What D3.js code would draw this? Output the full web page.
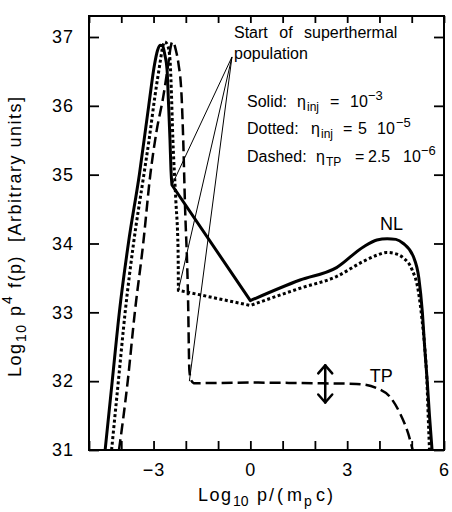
<html>
<head>
<meta charset="utf-8">
<script src="https://d3js.org/d3.v7.min.js"></script>
<style>
body { margin: 0; background: #fff; }
svg { background: #fff; }
text { font-family: "Liberation Sans", Arial, sans-serif; fill: #000; }
</style>
</head>
<body>
<script>
// log10 p/(mp c) vs log10 p^4 f(p)
var solidX  = [-4.50, -4.28, -4.06, -3.78, -3.44, -3.15, -2.97, -2.88, -2.80, -2.72, -2.65, -2.58, -2.54, -2.49, -2.46, -2.43,
               0, 1.54, 2.67, 3.50, 3.92, 4.24, 4.51, 4.74, 5.05, 5.22, 5.33, 5.40, 5.48, 5.55, 5.63];
var solidY  = [31.0, 32.0, 33.0, 34.0, 35.0, 36.0, 36.60, 36.80, 36.88, 36.87, 36.74, 36.52, 36.08, 35.50, 35.07, 34.85,
               33.17, 33.47, 33.65, 33.95, 34.05, 34.07, 34.06, 34.00, 33.81, 33.50, 33.00, 32.50, 32.00, 31.50, 31.0];

var dottedX = [-4.30, -4.09, -3.88, -3.62, -3.30, -3.14, -2.96, -2.80, -2.72, -2.65, -2.55, -2.49, -2.46, -2.40, -2.31, -2.24, -2.23,
               0, 1.54, 2.67, 3.50, 3.92, 4.22, 4.51, 4.74, 5.01, 5.20, 5.32, 5.41, 5.47, 5.51, 5.55];
var dottedY = [31.0, 32.0, 33.0, 34.0, 35.0, 35.50, 36.13, 36.62, 36.85, 36.93, 36.86, 36.67, 36.37, 35.50, 34.63, 33.91, 33.32,
               33.10, 33.35, 33.52, 33.74, 33.83, 33.87, 33.85, 33.79, 33.62, 33.32, 32.89, 32.45, 32.02, 31.50, 31.0];

var dashedX = [-4.07, -3.80, -3.58, -3.32, -3.10, -2.90, -2.70, -2.54, -2.47, -2.42, -2.36, -2.31, -2.23, -2.13, -2.08, -2.03, -1.93, -1.89, -1.84, -1.75,
               0, 2.0, 3.29, 3.91, 4.33, 4.64, 4.89, 5.03];
var dashedY = [31.0, 32.0, 33.0, 34.0, 35.0, 35.65, 36.13, 36.62, 36.85, 36.93, 36.90, 36.81, 36.62, 36.13, 35.50, 34.63, 33.18, 32.16, 32.02, 31.97,
               31.98, 31.97, 31.96, 31.90, 31.77, 31.53, 31.24, 31.0];

// straight (power-law) stretch of each curve, as [from, to] point indices
var solidStraight = [15, 16];
var dottedStraight = [16, 17];
var dashedStraight = [19, 20];

// where the superthermal population starts on each curve
var startX = [-2.43, -2.23, -1.89];
var startY = [34.85, 33.32, 32.00];

var xTicks = d3.range(-5, 7);
var xTickLabels = [-3, 0, 3, 6];
var yTicks = d3.range(31, 38);

var width = 452, height = 512;
var pL = 89, pR = 444, pT = 16, pB = 450;

var svg = d3.select('body').append('svg')
  .attr('width', width)
  .attr('height', height);

var x = d3.scaleLinear().domain([-5, 6]).range([pL, pR]);
var y = d3.scaleLinear().domain([31, 37.305]).range([pB, pT]);

function zip(a, b) { return a.map(function (d, i) { return [d, b[i]]; }); }

svg.append('clipPath').attr('id', 'frame')
  .append('rect')
  .attr('x', pL).attr('y', pT)
  .attr('width', pR - pL).attr('height', pB - pT);

// axes (ticks pointing inward)
function styleAxis(g) {
  g.select('.domain').remove();
  g.selectAll('.tick line').attr('stroke', '#000').attr('stroke-width', 1.8);
  g.selectAll('.tick text').attr('font-size', 18).attr('fill', '#000')
    .attr('font-family', '"Liberation Sans", Arial, sans-serif')
    .attr('letter-spacing', 1);
}

svg.append('g')
  .attr('transform', 'translate(0,' + pB + ')')
  .call(d3.axisBottom(x).tickValues(xTicks).tickSize(-9).tickSizeOuter(0).tickPadding(13)
    .tickFormat(function (d) { return xTickLabels.indexOf(d) >= 0 ? d3.format('')(d) : ''; }))
  .call(styleAxis);

svg.append('g')
  .attr('transform', 'translate(0,' + pT + ')')
  .call(d3.axisTop(x).tickValues(xTicks).tickSize(-7).tickSizeOuter(0).tickFormat(''))
  .call(styleAxis);

svg.append('g')
  .attr('transform', 'translate(' + pL + ',0)')
  .call(d3.axisLeft(y).tickValues(yTicks).tickSize(-10).tickSizeOuter(0).tickPadding(15).tickFormat(d3.format('d')))
  .call(styleAxis);

svg.append('g')
  .attr('transform', 'translate(' + pR + ',0)')
  .call(d3.axisRight(y).tickValues(yTicks).tickSize(-10).tickSizeOuter(0).tickFormat(''))
  .call(styleAxis);

svg.append('rect')
  .attr('x', pL).attr('y', pT)
  .attr('width', pR - pL).attr('height', pB - pT)
  .attr('fill', 'none').attr('stroke', '#000').attr('stroke-width', 2);

// curves: smooth pieces joined by a straight power-law stretch, one subpath
var smooth = d3.line().curve(d3.curveMonotoneX)
  .x(function (d) { return x(d[0]); })
  .y(function (d) { return y(d[1]); });
var straight = d3.line()
  .x(function (d) { return x(d[0]); })
  .y(function (d) { return y(d[1]); });

function curvePath(xs, ys, cut) {
  var pts = zip(xs, ys);
  var a = smooth(pts.slice(0, cut[0] + 1));
  var b = straight(pts.slice(cut[0], cut[1] + 1)).replace(/^M/, 'L');
  var c = smooth(pts.slice(cut[1])).replace(/^M/, 'L');
  return a + b + c;
}

var curves = svg.append('g').attr('clip-path', 'url(#frame)')
  .attr('fill', 'none').attr('stroke', '#000');

curves.append('path')
  .attr('d', curvePath(solidX, solidY, solidStraight))
  .attr('stroke-width', 3)
  .attr('stroke-linejoin', 'round');

curves.append('path')
  .attr('d', curvePath(dottedX, dottedY, dottedStraight))
  .attr('stroke-width', 3)
  .attr('stroke-dasharray', '3,2.5');

curves.append('path')
  .attr('d', curvePath(dashedX, dashedY, dashedStraight))
  .attr('stroke-width', 2.5)
  .attr('stroke-dasharray', '11,5');

// annotation lines
var anchor = [-0.57, 36.71];
svg.append('g').selectAll('line')
  .data(zip(startX, startY))
  .enter().append('line')
  .attr('x1', x(anchor[0])).attr('y1', y(anchor[1]))
  .attr('x2', function (d) { return x(d[0]); })
  .attr('y2', function (d) { return y(d[1]); })
  .attr('stroke', '#000').attr('stroke-width', 1);

svg.append('text').attr('x', 234).attr('y', 38).attr('font-size', 16)
  .attr('word-spacing', 7)
  .text('Start of superthermal');
svg.append('text').attr('x', 234).attr('y', 59).attr('font-size', 16)
  .text('population');

// legend text
function legendLine(yb, parts) {
  var t = svg.append('text').attr('y', yb).attr('font-size', 16);
  parts.forEach(function (p) {
    var s = t.append('tspan').attr('x', p[0]).attr('y', yb + (p[2] || 0)).text(p[1]);
    if (p[3]) s.attr('font-size', p[3]);
  });
}
legendLine(107, [[247, 'Solid:'], [297, 'η'], [307, 'inj', 4, 12], [330, '='], [350, '10'], [368, '−3', -7, 13]]);
legendLine(134, [[247, 'Dotted:'], [311, 'η'], [321, 'inj', 4, 12], [343, '='], [358, '5'], [377, '10'], [396, '−5', -7, 13]]);
legendLine(162, [[247, 'Dashed:'], [316, 'η'], [326, 'TP', 4, 12], [355, '='], [368, '2.5'], [403, '10'], [421, '−6', -7, 13]]);

svg.append('text').attr('x', x(4.02)).attr('y', y(34.2)).attr('font-size', 18).text('NL');
svg.append('text').attr('x', x(3.70)).attr('y', y(31.99)).attr('font-size', 18).text('TP');

// double arrow
var ax = x(2.32), ay1 = y(32.23), ay2 = y(31.69);
var arrow = svg.append('g').attr('stroke', '#000').attr('stroke-width', 2.5).attr('fill', 'none')
  .attr('stroke-linecap', 'round').attr('stroke-linejoin', 'round');
arrow.append('line').attr('x1', ax).attr('y1', ay1).attr('x2', ax).attr('y2', ay2);
arrow.append('path').attr('d', 'M' + (ax - 7) + ',' + (ay1 + 8) + 'L' + ax + ',' + ay1 + 'L' + (ax + 7) + ',' + (ay1 + 8));
arrow.append('path').attr('d', 'M' + (ax - 7) + ',' + (ay2 - 8) + 'L' + ax + ',' + ay2 + 'L' + (ax + 7) + ',' + (ay2 - 8));

// axis titles
var xt = svg.append('text').attr('y', 501).attr('font-size', 18);
xt.append('tspan').attr('x', 198).attr('letter-spacing', 1.5).text('Log');
xt.append('tspan').attr('x', 233).attr('y', 506).attr('font-size', 14).text('10');
xt.append('tspan').attr('x', 257).attr('y', 501).text('p');
xt.append('tspan').attr('x', 269).text('/');
xt.append('tspan').attr('x', 277).text('(');
xt.append('tspan').attr('x', 287).text('m');
xt.append('tspan').attr('x', 304).attr('y', 506).attr('font-size', 14).text('p');
xt.append('tspan').attr('x', 316).attr('y', 501).attr('letter-spacing', 2).text('c)');

// rotated: x along the text runs upward, screen y = -x
var yt = svg.append('text').attr('font-size', 18).attr('letter-spacing', 1.5)
  .attr('transform', 'translate(21,0) rotate(-90)');
yt.append('tspan').attr('x', -377).attr('y', 0).text('Log');
yt.append('tspan').attr('x', -342).attr('y', 5).attr('font-size', 14).text('10');
yt.append('tspan').attr('x', -316).attr('y', 0).text('p');
yt.append('tspan').attr('x', -304).attr('y', -9).attr('font-size', 14).text('4');
yt.append('tspan').attr('x', -288).attr('y', 0).text('f(p)');
yt.append('tspan').attr('x', -242).attr('y', 0).text('[Arbitrary units]');
</script>
</body>
</html>
